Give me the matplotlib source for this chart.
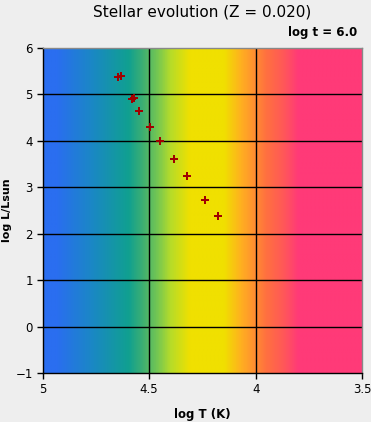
import numpy as np
import matplotlib
matplotlib.use("Agg")
import matplotlib.pyplot as plt
from matplotlib.colors import LinearSegmentedColormap

# Data
log_T = [4.645, 4.632, 4.582, 4.571, 4.548, 4.497, 4.449, 4.384, 4.323, 4.238, 4.177]
log_L = [5.38, 5.40, 4.90, 4.93, 4.65, 4.30, 4.00, 3.61, 3.24, 2.73, 2.39]
x_ticks = [5, 4.5, 4, 3.5]
x_tick_labels = ["5", "4.5", "4", "3.5"]
y_ticks = [-1, 0, 1, 2, 3, 4, 5, 6]
title = "Stellar evolution (Z = 0.020)"
time_label = "log t = 6.0"

# background colour bands versus log T
band_T = [5.0, 4.94, 4.77, 4.60, 4.53, 4.46, 4.40, 4.31, 4.15, 4.07, 4.01, 3.95, 3.87, 3.80, 3.5]
band_colors = ["#2a6ef0", "#2a6ef0", "#1a88c4", "#10a090", "#40b070", "#78c850",
               "#b8dc28", "#f0e000", "#f0e000", "#ffb020", "#ff9030", "#ff7040",
               "#ff5858", "#ff3a78", "#ff3a78"]

fig = plt.figure(figsize=(3.71, 4.22), dpi=100, facecolor="#eeeeee")
ax = fig.add_axes([0.1146, 0.1161, 0.8617, 0.7702])

pos = [(5.0 - t) / 1.5 for t in band_T]
cmap = LinearSegmentedColormap.from_list("bands", list(zip(pos, band_colors)))
grad = np.linspace(0, 1, 400)[None, :]
ax.imshow(grad, cmap=cmap, aspect="auto", extent=[5.0, 3.5, -1, 6], zorder=0,
          interpolation="bilinear")

for v in [4.5, 4.0]:
    ax.axvline(v, color="black", lw=1.0, zorder=1)
for h in [0, 1, 2, 3, 4, 5]:
    ax.axhline(h, color="black", lw=1.0, zorder=1)

ax.plot(log_T, log_L, linestyle="none", marker="P", markersize=5.5,
        color="#a00000", markeredgewidth=0, zorder=3)

ax.set_xlim(5.0, 3.5)
ax.set_ylim(-1, 6)
ax.set_xticks(x_ticks)
ax.set_xticklabels(x_tick_labels)
ax.set_yticks(y_ticks)
ax.tick_params(direction="out", length=4, width=1, labelsize=8.5, pad=3)

for s in ["left", "bottom"]:
    ax.spines[s].set_color("black")
    ax.spines[s].set_linewidth(1)
for s in ["top", "right"]:
    ax.spines[s].set_color("#888888")
    ax.spines[s].set_linewidth(1)

ax.set_xlabel("log T (K)", fontsize=8.5, fontweight="bold")
ax.set_ylabel("log L/Lsun", fontsize=8, fontweight="bold")
ax.xaxis.set_label_coords(0.5, -0.108)
ax.yaxis.set_label_coords(-0.094, 0.5)
fig.text(0.545, 0.972, title, ha="center", va="center", fontsize=11)
fig.text(0.963, 0.922, time_label, ha="right", va="center", fontsize=8.5,
         fontweight="bold")

fig.savefig("out.png", dpi=100, facecolor=fig.get_facecolor())
